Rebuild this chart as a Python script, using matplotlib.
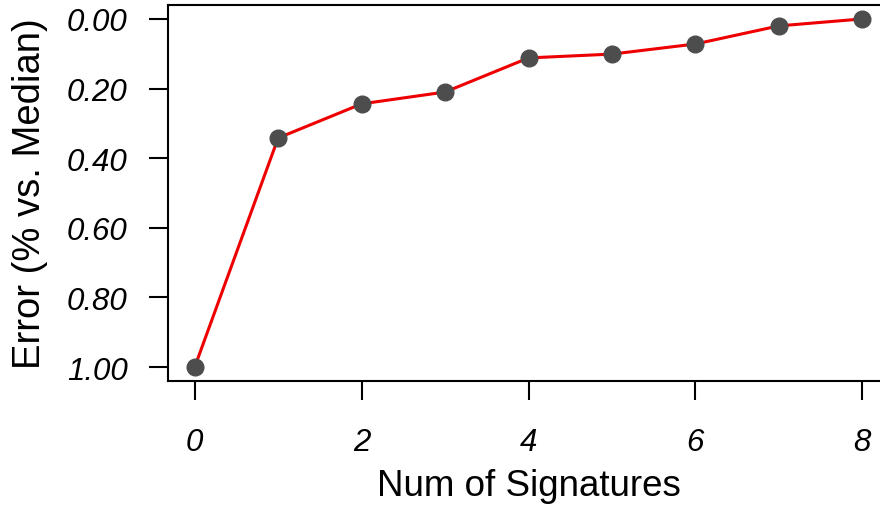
import matplotlib
matplotlib.use("Agg")
import matplotlib.pyplot as plt

plt.rcParams['font.family'] = ['Liberation Sans', 'DejaVu Sans']

num_signatures = [0, 1, 2, 3, 4, 5, 6, 7, 8]
error_vs_median = [1.00, 0.342, 0.244, 0.210, 0.112, 0.101, 0.072, 0.020, 0.000]
y_ticks = [0.0, 0.2, 0.4, 0.6, 0.8, 1.0]
x_ticks = [0, 2, 4, 6, 8]

fig = plt.figure(figsize=(8.8, 5.06), dpi=100)
ax = fig.add_axes([168 / 880, 124 / 506, 721 / 880, 376 / 506])

ax.plot(num_signatures, error_vs_median, color='#ee0000', linewidth=2.2,
        marker='o', markersize=12, markerfacecolor='#4d4d4d',
        markeredgecolor='#4d4d4d', zorder=3)

ax.set_xlim(-0.32, 8.32)
ax.set_ylim(1.04, -0.04)

ax.set_yticks(y_ticks)
ax.set_yticklabels([f'{v:.2f}' for v in y_ticks], fontstyle='italic', fontsize=22.5)
ax.set_xticks(x_ticks)
ax.set_xticklabels([str(v) for v in x_ticks], fontstyle='italic', fontsize=22.5)

ax.tick_params(axis='both', direction='out', length=14, width=1.5, color='black')
ax.tick_params(axis='y', pad=15)
ax.tick_params(axis='x', pad=19)

for s in ax.spines.values():
    s.set_linewidth(1.5)

ax.set_xlabel('Num of Signatures', fontsize=26.5, labelpad=8)
ax.set_ylabel('Error (% vs. Median)', fontsize=27.5, labelpad=14)

fig.savefig('out.png', dpi=100)
